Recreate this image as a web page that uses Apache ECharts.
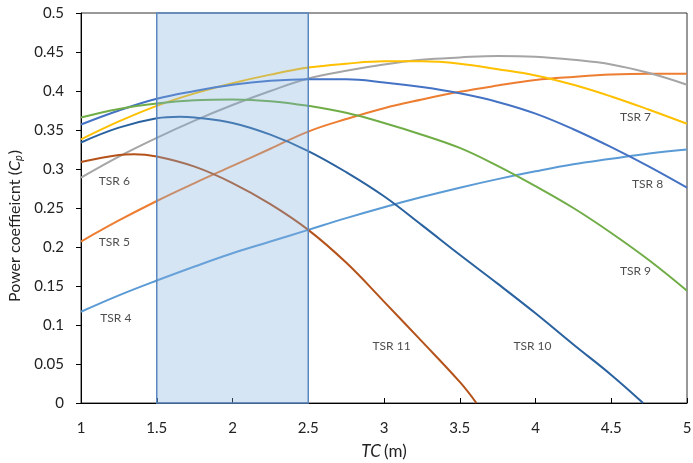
<!DOCTYPE html>
<html><head><meta charset="utf-8">
<script src="https://cdn.jsdelivr.net/npm/echarts@6/dist/echarts.min.js"></script>
<style>html,body{margin:0;padding:0;background:#fff}#c{width:693px;height:463px}</style>
</head><body><div id="c"></div>
<script>
const xs = [1, 1.25, 1.5, 1.75, 2, 2.25, 2.5, 2.75, 3, 3.25, 3.5, 3.75, 4, 4.25, 4.5, 4.75, 5];
const tsr4 = [0.117, 0.138, 0.157, 0.175, 0.192, 0.207, 0.222, 0.237, 0.251, 0.264, 0.276, 0.287, 0.297, 0.306, 0.313, 0.320, 0.325];
const tsr5 = [0.207, 0.234, 0.259, 0.282, 0.304, 0.326, 0.348, 0.364, 0.378, 0.389, 0.399, 0.407, 0.414, 0.418, 0.421, 0.422, 0.422];
const tsr6 = [0.289, 0.316, 0.340, 0.362, 0.382, 0.400, 0.416, 0.426, 0.434, 0.440, 0.443, 0.445, 0.444, 0.440, 0.434, 0.423, 0.408];
const tsr7 = [0.338, 0.361, 0.381, 0.397, 0.410, 0.421, 0.430, 0.435, 0.438, 0.438, 0.435, 0.428, 0.420, 0.408, 0.393, 0.376, 0.358];
const tsr8 = [0.357, 0.375, 0.390, 0.400, 0.408, 0.413, 0.415, 0.415, 0.411, 0.405, 0.397, 0.386, 0.371, 0.351, 0.328, 0.303, 0.276];
const tsr9 = [0.366, 0.377, 0.384, 0.388, 0.389, 0.387, 0.381, 0.372, 0.359, 0.344, 0.327, 0.304, 0.278, 0.250, 0.218, 0.183, 0.144];
const tsr10x = [1, 1.25, 1.5, 1.65, 1.75, 2, 2.25, 2.5, 2.75, 3, 3.25, 3.5, 3.75, 4, 4.25, 4.5, 4.71];
const tsr10 = [0.334, 0.353, 0.365, 0.367, 0.366, 0.359, 0.344, 0.323, 0.296, 0.265, 0.228, 0.190, 0.153, 0.115, 0.075, 0.036, 0];
const tsr11x = [1, 1.25, 1.35, 1.5, 1.75, 2, 2.25, 2.5, 2.75, 3, 3.25, 3.5, 3.61];
const tsr11 = [0.309, 0.318, 0.319, 0.316, 0.303, 0.282, 0.255, 0.222, 0.180, 0.130, 0.079, 0.027, 0];
const seriesNames = ['TSR 4','TSR 5','TSR 6','TSR 7','TSR 8','TSR 9','TSR 10','TSR 11'];
const xTicks = [1, 1.5, 2, 2.5, 3, 3.5, 4, 4.5, 5];
const shadeRange = [1.5, 2.5];

const colors = ['#5B9BD5','#ED7D31','#A5A5A5','#FFC000','#4472C4','#70AD47','#2A62A0','#B4521A'];
const pair = (x, y) => x.map((v, i) => [v, y[i]]);
const allData = [pair(xs,tsr4), pair(xs,tsr5), pair(xs,tsr6), pair(xs,tsr7), pair(xs,tsr8), pair(xs,tsr9), pair(tsr10x,tsr10), pair(tsr11x,tsr11)];
const F = 'Lato';

const series = allData.map((d, i) => ({
  name: seriesNames[i], type: 'line', data: d, smooth: 0.4, showSymbol: false,
  lineStyle: {color: colors[i], width: 2}, itemStyle: {color: colors[i]}, z: 2, silent: true
}));
series.push({
  type: 'line', data: [], z: 5, silent: true,
  markArea: {silent: true, z: 5,
    itemStyle: {color: 'rgba(130,175,222,0.33)', borderColor: '#5B87C0', borderWidth: 1.5},
    data: [[{xAxis: shadeRange[0], yAxis: 0.5}, {xAxis: shadeRange[1], yAxis: 0}]]}
});
series.push({
  type: 'scatter', symbolSize: 0, z: 6, silent: true,
  label: {show: true, position: 'inside', formatter: '{b}', fontFamily: F, fontSize: 12, color: '#222'},
  data: [
    {name: 'TSR 4', value: [1.23, 0.109]},
    {name: 'TSR 5', value: [1.22, 0.206]},
    {name: 'TSR 6', value: [1.22, 0.285]},
    {name: 'TSR 7', value: [4.66, 0.367]},
    {name: 'TSR 8', value: [4.74, 0.281]},
    {name: 'TSR 9', value: [4.66, 0.169]},
    {name: 'TSR 10', value: [3.98, 0.073]},
    {name: 'TSR 11', value: [3.05, 0.073]}
  ]
});

const chart = echarts.init(document.getElementById('c'), null, {renderer: 'canvas'});
chart.setOption({
  animation: false,
  backgroundColor: '#fff',
  grid: {left: 81, right: 6, top: 13, bottom: 60, show: true, borderColor: '#333', borderWidth: 1, outerBoundsMode: 'none', containLabel: false},
  xAxis: {
    type: 'value', min: 1, max: 5, interval: 0.5,
    name: '{i|TC} {n|(m)}', nameLocation: 'middle', nameGap: 40,
    nameTextStyle: {rich: {i: {fontFamily: F, fontSize: 17, fontStyle: 'italic', color: '#222'}, n: {fontFamily: F, fontSize: 17, color: '#222'}}},
    axisLine: {lineStyle: {color: '#000', width: 1}},
    axisTick: {inside: true, length: 5, lineStyle: {color: '#000'}},
    axisLabel: {fontFamily: F, fontSize: 15, color: '#222', margin: 18, formatter: v => xTicks.includes(v) ? String(v) : ''},
    splitLine: {show: false}
  },
  yAxis: {
    type: 'value', min: 0, max: 0.5, interval: 0.05,
    name: '{n|Power coeffieicnt (}{i|C}{s|p}{n|)}', nameLocation: 'middle', nameGap: 57, nameRotate: 90,
    nameTextStyle: {padding: [0, 36, 0, 0], rich: {
      n: {fontFamily: F, fontSize: 16, color: '#222'},
      i: {fontFamily: F, fontSize: 16, fontStyle: 'italic', color: '#222'},
      s: {fontFamily: F, fontSize: 11, fontStyle: 'italic', color: '#222', padding: [7, 1, 0, 0]}
    }},
    axisLine: {show: true, lineStyle: {color: '#000', width: 1}},
    axisTick: {show: true, inside: false, length: 5, lineStyle: {color: '#000'}},
    axisLabel: {fontFamily: F, fontSize: 15, color: '#222', margin: 17, formatter: v => String(+v.toFixed(2))},
    splitLine: {show: false}
  },
  series: series
});
</script></body></html>
